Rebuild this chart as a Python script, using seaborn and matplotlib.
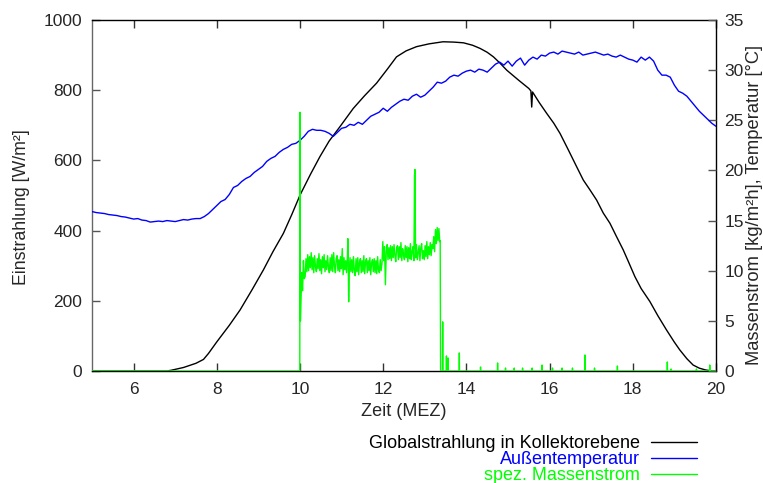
import numpy as np
import pandas as pd
import matplotlib
matplotlib.use("Agg")
import matplotlib.pyplot as plt
import seaborn as sns

# Globalstrahlung in Kollektorebene [W/m²]
rad_hours = [5.0, 6.8, 6.9, 7.2, 7.5, 7.68, 7.8, 8.0, 8.3, 8.56, 8.85, 9.12, 9.35, 9.6,
             9.8, 10.0, 10.25, 10.48, 10.7, 10.96, 11.28, 11.55, 11.84, 12.1, 12.32,
             12.55, 12.8, 13.1, 13.44, 13.7, 13.93, 14.15, 14.33, 14.5, 14.65, 14.8,
             14.97, 15.25, 15.5, 15.55, 15.57, 15.59, 15.75, 15.93, 16.1, 16.25, 16.45,
             16.65, 16.81, 16.97, 17.13, 17.29, 17.45, 17.6, 17.77, 17.9, 18.05, 18.2,
             18.41, 18.6, 18.81, 19.0, 19.13, 19.3, 19.45, 19.6, 19.75, 19.9, 20.0]
rad_values = [0, 0, 2, 10, 22, 33, 50, 83, 130, 174, 232, 288, 340, 392,
              445, 501, 560, 611, 655, 696, 748, 784, 820, 860, 895,
              912, 924, 932, 938, 937, 935, 928, 919, 908, 895, 878,
              857, 829, 805, 798, 752, 795, 765, 734, 706, 677, 630,
              582, 544, 516, 487, 450, 421, 385, 345, 310, 269, 235,
              198, 158, 117, 82, 60, 35, 17, 8, 3, 0, 0]

# Außentemperatur [°C], 6-minute readings from 5:00 to 20:00
temp_hours = np.round(np.arange(5.0, 20.0001, 0.1), 1)
temp_values = [15.9, 15.8, 15.75, 15.7, 15.6, 15.55, 15.5, 15.4, 15.35, 15.25,
               15.15, 15.2, 15.05, 15.0, 14.85, 14.9, 14.95, 14.9, 15.0, 14.95,
               14.9, 15.0, 15.1, 15.05, 15.15, 15.2, 15.2, 15.4, 15.7, 16.1,
               16.5, 16.9, 17.1, 17.6, 18.3, 18.5, 18.9, 19.2, 19.4, 19.8,
               20.1, 20.4, 20.9, 21.2, 21.4, 21.8, 22.1, 22.3, 22.6, 22.7,
               23.0, 23.4, 23.9, 24.1, 24.0, 24.0, 23.9, 23.7, 23.4, 23.8,
               24.2, 24.3, 24.6, 24.5, 24.8, 24.6, 25.0, 25.4, 25.6, 25.8,
               26.2, 25.9, 26.3, 26.6, 26.9, 27.1, 27.0, 27.4, 27.6, 27.3,
               27.5, 27.9, 28.3, 28.8, 28.7, 28.9, 29.3, 29.5, 29.4, 29.7,
               29.9, 30.0, 29.8, 30.1, 30.0, 29.8, 30.2, 30.6, 30.8, 30.5,
               30.9, 30.4, 30.9, 31.2, 30.5, 31.0, 31.3, 31.1, 31.5, 31.4,
               31.7, 31.8, 31.6, 31.9, 31.8, 31.7, 31.6, 31.8, 31.5, 31.6,
               31.7, 31.8, 31.65, 31.5, 31.6, 31.4, 31.3, 31.5, 31.3, 31.1,
               31.0, 30.8, 31.3, 31.0, 31.3, 30.9, 30.0, 29.5, 29.5, 29.3,
               28.5, 27.9, 27.7, 27.4, 26.9, 26.4, 25.9, 25.5, 25.1, 24.7,
               24.4]

# spez. Massenstrom [kg/m²h] while the pump runs (10:01 - 13:22)
flow_values = [6.5, 9.8, 8.0, 11.0, 9.2,
               9.4, 11.2, 9.9, 11.6, 10.0, 11.4, 10.3, 11.8, 10.1, 11.3,
               9.8, 11.5, 10.4, 9.9, 11.2, 10.2, 11.7, 10.0, 11.1, 9.7,
               11.4, 10.3, 11.6, 9.9, 11.0, 10.1, 11.5, 10.4, 9.8, 11.3,
               10.0, 11.6, 9.9, 11.8, 10.5, 9.8, 11.2, 11.5, 10.0, 11.1,
               9.9, 11.4, 10.2, 12.2, 9.6, 11.3, 10.1, 11.0, 9.8, 11.4,
               10.9, 9.7, 11.3, 9.9, 11.1, 9.8, 11.4, 10.0, 9.5, 11.2,
               9.9, 11.3, 9.6, 10.8, 11.2, 9.8, 11.0, 9.9, 11.5, 9.7,
               10.9, 11.2, 9.8, 11.0, 10.0, 11.3, 9.6, 10.8, 11.1, 9.9,
               11.2, 9.8, 11.0, 9.7, 11.4, 10.1, 9.8, 11.1, 10.0, 10.7,
               12.9, 11.0, 12.4, 8.6, 11.9, 12.6, 11.1, 12.3,
               11.2, 12.5, 11.0, 12.4, 11.3, 12.6, 11.5, 10.9, 12.3, 12.5,
               11.1, 12.4, 11.3, 12.8, 11.0, 12.2, 11.6, 11.1, 12.5, 11.3,
               12.4, 10.9, 12.3, 11.2, 12.7, 11.1, 11.9, 12.4, 11.0, 12.3,
               11.3, 12.6, 11.1, 11.8, 12.5, 11.0, 12.3, 12.7, 11.2, 12.0,
               11.1, 12.5, 11.4, 12.9, 11.2, 12.4, 11.6, 12.8, 11.5, 12.6,
               12.2, 13.4, 11.9, 14.1, 12.7, 14.3, 13.0, 14.2, 12.9]
flow_start, flow_end = 10.02, 13.36

# individual peaks in the flow record (hour, value)
flow_peaks_hours = [9.995, 10.0, 10.01, 11.15, 11.17, 12.755, 12.762, 13.37, 13.38]
flow_peaks_values = [0.0, 25.8, 5.0, 13.2, 6.9, 19.6, 20.1, 13.0, 0.0]

# short pulses after the pump stops (hour, value)
pulse_hours = [13.43, 13.52, 13.56, 13.83, 14.34, 14.75, 14.94, 15.15, 15.35, 15.58,
               15.82, 16.07, 16.3, 16.55, 16.85, 17.08, 17.63, 18.83, 18.92, 19.53,
               19.85]
pulse_values = [4.9, 1.5, 1.3, 1.8, 0.4, 0.8, 0.3, 0.3, 0.3, 0.3,
                0.6, 0.3, 0.3, 0.3, 1.6, 0.3, 0.5, 0.9, 0.2, 0.2,
                0.6]

# assemble the flow series
flow_h = list(np.linspace(flow_start, flow_end, len(flow_values)))
flow_v = list(flow_values)
flow_h += flow_peaks_hours
flow_v += flow_peaks_values
for h, v in zip(pulse_hours, pulse_values):
    flow_h += [h - 0.004, h, h + 0.004]
    flow_v += [0.0, v, 0.0]
flow_h += [5.0, 20.0]
flow_v += [0.0, 0.0]
flow = pd.DataFrame({"h": flow_h, "v": flow_v}).sort_values("h")

rad = pd.DataFrame({"h": rad_hours, "v": rad_values})
temp = pd.DataFrame({"h": temp_hours, "v": temp_values})

sns.set_style("white")
plt.rcParams["font.family"] = ["Liberation Sans", "DejaVu Sans"]
plt.rcParams["font.size"] = 12.5

fig = plt.figure(figsize=(7.63, 4.83), dpi=100)
ax = fig.add_axes([92 / 763, 1 - 371 / 483, (716 - 92) / 763, (371 - 20) / 483])
ax2 = ax.twinx()

sns.lineplot(data=rad, x="h", y="v", ax=ax, color="black", lw=1.0,
             estimator=None, sort=False, label="Globalstrahlung in Kollektorebene",
             legend=False)
sns.lineplot(data=temp, x="h", y="v", ax=ax2, color="#0000ff", lw=1.0,
             estimator=None, sort=False, label="Außentemperatur", legend=False)
sns.lineplot(data=flow, x="h", y="v", ax=ax2, color="#00ff00", lw=1.0,
             estimator=None, sort=False, label="spez. Massenstrom", legend=False)

ax.set_xlim(5, 20)
ax.set_ylim(0, 1000)
ax2.set_ylim(0, 35)
ax.set_xticks([6, 8, 10, 12, 14, 16, 18, 20])
ax.set_yticks([0, 200, 400, 600, 800, 1000])
ax2.set_yticks([0, 5, 10, 15, 20, 25, 30, 35])

ax.set_xlabel("Zeit (MEZ)", fontsize=13)
ax.xaxis.set_label_coords(0.5, -0.09)
ax.set_ylabel("Einstrahlung [W/m²]", fontsize=12.8)
ax.yaxis.set_label_coords(-0.1, 0.468)
ax2.set_ylabel("Massenstrom [kg/m²h], Temperatur [°C]", fontsize=13.2)
ax2.yaxis.set_label_coords(1.0485, 0.474)

ax.tick_params(axis="x", direction="in", length=6, width=1, top=True, bottom=True,
               labelsize=12.5, pad=8, color="#333333")
ax.tick_params(axis="y", direction="in", length=6, width=1, left=True, right=False,
               labelsize=12.5, pad=7, color="#555555")
ax2.tick_params(axis="y", direction="in", length=6, width=1, right=True, left=False,
                labelsize=12.5, pad=6, color="#555555")

for sp in ax2.spines.values():
    sp.set_visible(False)
for name, sp in ax.spines.items():
    sp.set_visible(True)
    sp.set_linewidth(1.0)
    sp.set_color("#666666" if name == "left" else "black")

handles = ax.get_lines()[:1] + ax2.get_lines()[:2]
labels = [h.get_label() for h in handles]
leg = fig.legend(handles, labels, loc="upper right",
                 bbox_to_anchor=(697 / 763, 1 - 435 / 483),
                 frameon=False, markerfirst=False, fontsize=13,
                 handlelength=2.55, handletextpad=0.6, labelspacing=-0.05,
                 borderpad=0, borderaxespad=0, labelcolor="linecolor")

fig.savefig("out.png", dpi=100)
